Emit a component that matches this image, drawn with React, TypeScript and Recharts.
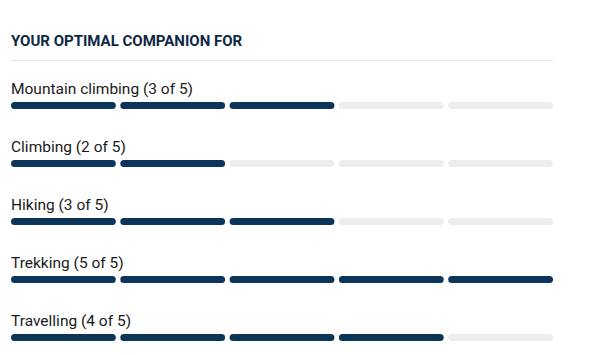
import React from "react";
import { BarChart, Bar, XAxis, YAxis, Cell, LabelList } from "recharts";

const activities = ["Mountain climbing", "Climbing", "Hiking", "Trekking", "Travelling"];
const scores = [3, 2, 3, 5, 4];
const maxScore = 5;
const segmentKeys = ["s1", "s2", "s3", "s4", "s5"];

const NAVY = "#0b3659";
const GRAY = "#ededed";

const data = activities.map((name, i) => {
  const row: Record<string, any> = { name, score: scores[i] };
  segmentKeys.forEach((k) => (row[k] = 1));
  return row;
});

const Segment = (props: any) => {
  const { x, y, width, height, fill } = props;
  const w = Math.max(width - 4.5, 0);
  return <rect x={x} y={y} width={w} height={height} rx={height / 2} ry={height / 2} fill={fill} />;
};

const RowLabel = (props: any) => {
  const { x, y, index } = props;
  return (
    <text x={x} y={y - 8} fill="#1a1a1a" fontSize={15.5} fontFamily="Roboto, sans-serif">
      {`${activities[index]} (${scores[index]} of ${maxScore})`}
    </text>
  );
};

export default function App() {
  return (
    <div
      style={{
        position: "absolute",
        left: 0,
        top: 0,
        width: 591,
        height: 355,
        overflow: "hidden",
        background: "#fff",
        fontFamily: "Roboto, sans-serif",
      }}
    >
      <div
        style={{
          position: "absolute",
          left: 11,
          top: 31,
          fontSize: 15,
          fontWeight: 700,
          color: "#0f2745",
          lineHeight: "20px",
        }}
      >
        YOUR OPTIMAL COMPANION FOR
      </div>
      <div style={{ position: "absolute", left: 11, top: 60, width: 542, height: 1, background: "#e6e6e6" }} />
      <BarChart
        width={591}
        height={366}
        data={data}
        layout="vertical"
        margin={{ top: 76, right: 33.5, bottom: 0, left: 11 }}
        barSize={7}
      >
        <XAxis type="number" domain={[0, maxScore]} hide />
        <YAxis type="category" dataKey="name" hide />
        {segmentKeys.map((k, si) => (
          <Bar key={k} dataKey={k} stackId="a" shape={<Segment />} isAnimationActive={false}>
            {data.map((d, i) => (
              <Cell key={i} fill={d.score > si ? NAVY : GRAY} />
            ))}
            {si === 0 && <LabelList dataKey="name" content={<RowLabel />} />}
          </Bar>
        ))}
      </BarChart>
    </div>
  );
}
